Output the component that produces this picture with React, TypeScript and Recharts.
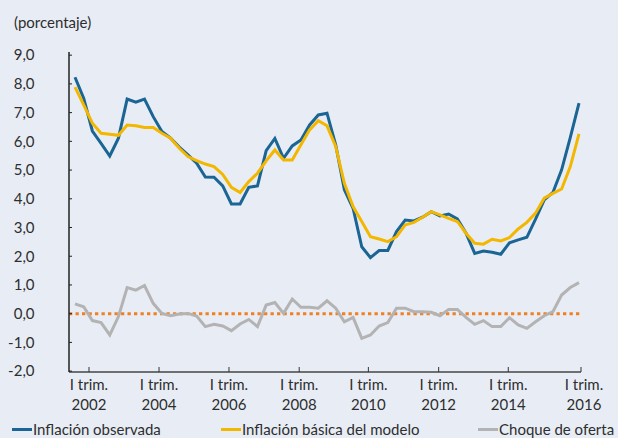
import React from 'react';
import { LineChart, Line, XAxis, YAxis, ReferenceLine } from 'recharts';

// Quarterly observations, 2001 III trim. .. 2016 I trim.
const inflacionObservada = [
  8.23, 7.5, 6.36, 5.93, 5.49, 6.11, 7.47, 7.36, 7.47, 6.86,
  6.34, 6.11, 5.8, 5.53, 5.24, 4.76, 4.75, 4.45, 3.82, 3.82,
  4.4, 4.45, 5.68, 6.1, 5.41, 5.84, 6.05, 6.57, 6.92, 6.98,
  5.88, 4.31, 3.67, 2.33, 1.95, 2.2, 2.2, 2.86, 3.26, 3.23,
  3.36, 3.55, 3.4, 3.47, 3.3, 2.8, 2.1, 2.18, 2.14, 2.07,
  2.47, 2.57, 2.66, 3.29, 3.96, 4.22, 5.01, 6.14, 7.33,
];
const inflacionBasica = [
  7.89, 7.27, 6.63, 6.28, 6.25, 6.21, 6.57, 6.54, 6.48, 6.48,
  6.28, 6.11, 5.76, 5.47, 5.33, 5.21, 5.12, 4.85, 4.4, 4.22,
  4.6, 4.89, 5.32, 5.7, 5.35, 5.35, 5.88, 6.4, 6.72, 6.54,
  5.82, 4.54, 3.73, 3.21, 2.68, 2.6, 2.51, 2.68, 3.09, 3.18,
  3.36, 3.55, 3.44, 3.32, 3.21, 2.8, 2.45, 2.42, 2.59, 2.53,
  2.65, 2.95, 3.18, 3.5, 4.02, 4.19, 4.34, 5.12, 6.26,
];
const choqueOferta = [
  0.34, 0.24, -0.24, -0.31, -0.74, -0.1, 0.91, 0.82, 0.98, 0.36,
  0.01, -0.07, -0.01, 0.01, -0.08, -0.45, -0.37, -0.43, -0.59, -0.36,
  -0.2, -0.45, 0.3, 0.39, 0.01, 0.51, 0.22, 0.22, 0.19, 0.45,
  0.19, -0.28, -0.13, -0.86, -0.74, -0.43, -0.31, 0.19, 0.19, 0.07,
  0.07, 0.05, -0.07, 0.15, 0.15, -0.13, -0.37, -0.24, -0.45, -0.45,
  -0.14, -0.39, -0.51, -0.28, -0.07, 0.07, 0.65, 0.91, 1.08,
];

const yearLabels = ['2002', '2004', '2006', '2008', '2010', '2012', '2014', '2016'];
const xTickPositions = [1.61, 9.67, 17.72, 25.8, 33.76, 41.85, 49.86, 58.23];
const yTicks = [-2, -1, 0, 1, 2, 3, 4, 5, 6, 7, 8, 9];

const data = inflacionObservada.map((v, i) => ({
  x: i,
  obs: v,
  core: inflacionBasica[i],
  shock: choqueOferta[i],
}));

const FONT = 'Lato, "Open Sans", sans-serif';
const TEXT = '#2e2e2e';
const BLUE = '#1b6594';
const YELLOW = '#f3b700';
const GRAY = '#b3b3b3';
const ORANGE = '#ef8024';
const BG = '#e8edf5';

const XTick = (props: any) => {
  const { x, y, payload } = props;
  const idx = xTickPositions.indexOf(payload.value);
  const year = yearLabels[idx] ?? '';
  const dx = idx === yearLabels.length - 1 ? 3 : 0;
  return (
    <g>
      <text x={x + dx} y={y} textAnchor="middle" fill={TEXT} fontSize={15} fontFamily={FONT}>
        <tspan x={x + dx} dy={18}>I trim.</tspan>
        <tspan x={x + dx} dy={20}>{year}</tspan>
      </text>
    </g>
  );
};

const legendItems = [
  { label: 'Inflación observada', color: BLUE, left: 12 },
  { label: 'Inflación básica del modelo', color: YELLOW, left: 221 },
  { label: 'Choque de oferta', color: GRAY, left: 478 },
];

export default function App() {
  return (
    <div
      style={{
        position: 'absolute',
        left: 0,
        top: 0,
        width: 618,
        height: 438,
        background: BG,
        overflow: 'hidden',
        fontFamily: FONT,
      }}
    >
      <div style={{ position: 'absolute', left: 14, top: 13, fontSize: 15, color: TEXT }}>
        (porcentaje)
      </div>
      <LineChart
        width={618}
        height={438}
        data={data}
        margin={{ top: 52, right: 37, bottom: 26, left: 19 }}
      >
        <XAxis
          type="number"
          dataKey="x"
          domain={[-0.69, 58.23]}
          ticks={xTickPositions}
          interval={0}
          allowDataOverflow
          height={40}
          tickSize={-5}
          tickMargin={5}
          tick={<XTick />}
          axisLine={{ stroke: '#444', strokeWidth: 1.5 }}
          tickLine={{ stroke: '#333', strokeWidth: 1 }}
        />
        <YAxis
          type="number"
          domain={[-2.03, 9.11]}
          ticks={yTicks}
          interval={0}
          allowDataOverflow
          width={50}
          tickSize={-3}
          tickMargin={37.5}
          tickFormatter={(v: number) => v.toFixed(1).replace('.', ',')}
          tick={{ fill: TEXT, fontSize: 15, fontFamily: FONT }}
          axisLine={{ stroke: '#222', strokeWidth: 1.5 }}
          tickLine={{ stroke: '#222', strokeWidth: 1 }}
        />
        <ReferenceLine y={0} stroke={ORANGE} strokeWidth={3} strokeDasharray="3.3 3.2" />
        <Line
          dataKey="shock"
          stroke={GRAY}
          strokeWidth={3}
          dot={false}
          isAnimationActive={false}
          type="linear"
        />
        <Line
          dataKey="obs"
          stroke={BLUE}
          strokeWidth={3}
          dot={false}
          isAnimationActive={false}
          type="linear"
        />
        <Line
          dataKey="core"
          stroke={YELLOW}
          strokeWidth={3}
          dot={false}
          isAnimationActive={false}
          type="linear"
        />
      </LineChart>
      {legendItems.map((it) => (
        <div
          key={it.label}
          style={{
            position: 'absolute',
            left: it.left,
            top: 421,
            height: 16,
            lineHeight: '16px',
            display: 'flex',
            alignItems: 'center',
            fontSize: 15,
            color: TEXT,
            whiteSpace: 'nowrap',
          }}
        >
          <span
            style={{ display: 'inline-block', width: 20, height: 3, background: it.color, marginRight: 1 }}
          />
          <span>{it.label}</span>
        </div>
      ))}
    </div>
  );
}
